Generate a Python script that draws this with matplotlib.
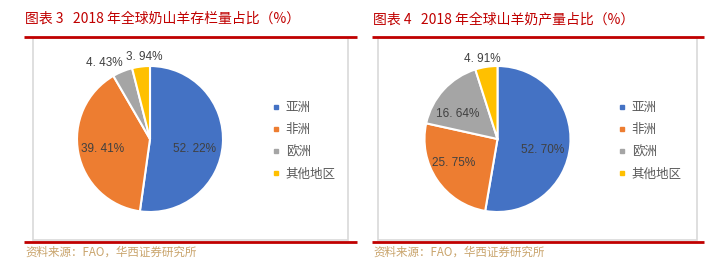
import numpy as np
import matplotlib.pyplot as plt
from matplotlib.lines import Line2D
from matplotlib.patches import Rectangle

plt.rcParams['font.family'] = ['Noto Sans CJK SC', 'DejaVu Sans']

regions = ['亚洲', '非洲', '欧洲', '其他地区']
colors = ['#4472C4', '#ED7D31', '#A5A5A5', '#FFC000']

stock_vals = [52.22, 39.41, 4.43, 3.94]
stock_labels = ['52. 22%', '39. 41%', '4. 43%', '3. 94%']
milk_vals = [52.70, 25.75, 16.64, 4.91]
milk_labels = ['52. 70%', '25. 75%', '16. 64%', '4. 91%']

titles = ['图表 3   2018 年全球奶山羊存栏量占比（%）',
          '图表 4   2018 年全球山羊奶产量占比（%）']
source = '资料来源：FAO，华西证券研究所'

W, H = 722, 279
fig = plt.figure(figsize=(W / 100, H / 100), dpi=100)
bg = fig.add_axes([0, 0, 1, 1])
bg.set_xlim(0, W)
bg.set_ylim(H, 0)
bg.axis('off')

red = '#C00000'
panels = [
    dict(x0=24, x1=357, fx0=33, fx1=348, cx=150, cy=139, leg=272,
         vals=stock_vals, labels=stock_labels,
         dist=[0.63, 0.66, 1.22, 1.12], rot=[-8, 1, 9, -3]),
    dict(x0=372, x1=704, fx0=378, fx1=697, cx=497.5, cy=139, leg=618,
         vals=milk_vals, labels=milk_labels,
         dist=[0.63, 0.68, 0.64, 1.12], rot=[-9, -5, 10, 2]),
]

for p, title in zip(panels, titles):
    bg.text(p['x0'] + 1, 19, title, color=red, fontsize=10, va='center', ha='left')
    bg.plot([p['x0'], p['x1']], [37, 37], color=red, lw=2, solid_capstyle='butt')
    bg.plot([p['x0'], p['x1']], [242, 242], color=red, lw=2, solid_capstyle='butt')
    bg.add_patch(Rectangle((p['fx0'], 38), p['fx1'] - p['fx0'], 202,
                           fill=False, ec='#D9D9D9', lw=1.2))
    bg.text(p['x0'] + 1, 252, source, color='#C9A46C', fontsize=8.3, va='center', ha='left')

    r = 73
    ax = fig.add_axes([(p['cx'] - r) / W, 1 - (p['cy'] + r) / H, 2 * r / W, 2 * r / H])
    wedges, _ = ax.pie(p['vals'], colors=colors, startangle=90, counterclock=False,
                       radius=1, wedgeprops=dict(edgecolor='white', linewidth=1.5))
    ax.set_xlim(-1, 1)
    ax.set_ylim(-1, 1)
    ax.set_aspect('equal')
    ax.axis('off')
    for w, lab, d, rt in zip(wedges, p['labels'], p['dist'], p['rot']):
        ang = np.deg2rad((w.theta1 + w.theta2) / 2 + rt)
        ax.text(d * np.cos(ang), d * np.sin(ang), lab, ha='center', va='center',
                fontsize=8.5, color='#404040', family=['Liberation Sans', 'DejaVu Sans'],
                clip_on=False)

    handles = [Line2D([], [], marker='s', ls='', color=c, markersize=3.5) for c in colors]
    fig.legend(handles, regions, loc='upper left',
               bbox_to_anchor=(p['leg'] / W, 1 - 101 / H), frameon=False,
               fontsize=9, labelcolor='#595959', handlelength=0.6, handletextpad=0.5,
               labelspacing=0.74, borderpad=0, borderaxespad=0)

fig.savefig('out.png', dpi=100)
